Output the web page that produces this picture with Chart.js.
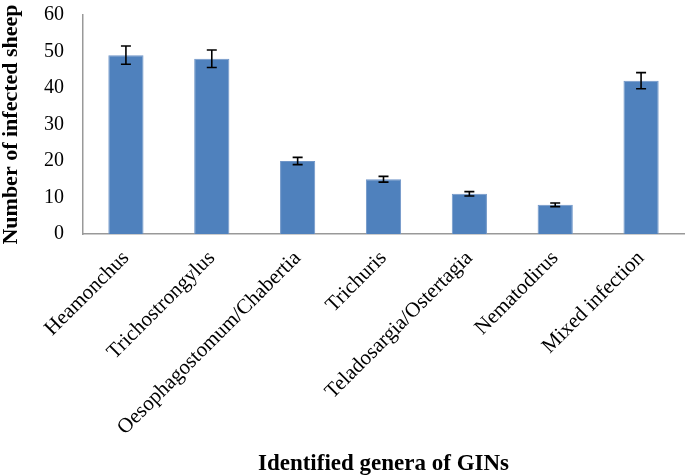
<!DOCTYPE html>
<html>
<head>
<meta charset="utf-8">
<script src="https://cdn.jsdelivr.net/npm/chart.js@4"></script>
<style>
html,body{margin:0;padding:0;background:#fff;}
#wrap{width:685px;height:475px;position:relative;}
</style>
</head>
<body>
<div id="wrap"><canvas id="c" width="685" height="475"></canvas></div>
<script>
const categories = ["Heamonchus","Trichostrongylus","Oesophagostomum/Chabertia","Trichuris","Teladosargia/Ostertagia","Nematodirus","Mixed infection"];
const infectedSheep = [49, 48, 20, 15, 11, 8, 42];
const errorMargins = [2.5, 2.4, 1.0, 0.8, 0.6, 0.5, 2.2];
const yTicks = [0,10,20,30,40,50,60];

const errorBarPlugin = {
  id: 'errorBars',
  afterDatasetsDraw(chart) {
    const ctx = chart.ctx;
    const meta = chart.getDatasetMeta(0);
    const y = chart.scales.y;
    ctx.save();
    ctx.strokeStyle = '#000';
    ctx.lineWidth = 1.6;
    meta.data.forEach((bar, i) => {
      const v = infectedSheep[i], e = errorMargins[i];
      const x = bar.x;
      const yt = y.getPixelForValue(v + e);
      const yb = y.getPixelForValue(v - e);
      const cap = 5;
      ctx.beginPath();
      ctx.moveTo(x, yt); ctx.lineTo(x, yb);
      ctx.moveTo(x - cap, yt); ctx.lineTo(x + cap, yt);
      ctx.moveTo(x - cap, yb); ctx.lineTo(x + cap, yb);
      ctx.stroke();
    });
    ctx.restore();
  }
};

const serif = '"Liberation Serif", "Times New Roman", serif';

new Chart(document.getElementById('c'), {
  type: 'bar',
  data: {
    labels: categories,
    datasets: [{
      data: infectedSheep,
      backgroundColor: '#4F81BD',
      borderColor: '#7096C8',
      borderWidth: 1,
      barPercentage: 0.41,
      categoryPercentage: 1.0
    }]
  },
  options: {
    responsive: false,
    animation: false,
    layout: { padding: { top: 0, right: 1, left: 0, bottom: 0 } },
    plugins: { legend: { display: false }, tooltip: { enabled: false } },
    scales: {
      x: {
        afterFit(scale) { scale.paddingLeft = 0; scale.paddingRight = 0; scale.height = 241; },
        grid: { display: false, drawTicks: false },
        border: { display: true, color: '#999999', width: 1.5 },
        ticks: {
          color: '#000',
          font: { family: serif, size: 21 },
          minRotation: 45, maxRotation: 45, autoSkip: false, padding: 12
        },
        title: {
          display: true,
          text: 'Identified genera of GINs',
          color: '#000',
          font: { family: serif, size: 23, weight: 'bold' },
          padding: { top: 29, bottom: -3 }
        }
      },
      y: {
        min: 0, max: 60,
        afterBuildTicks(scale) { scale.ticks = yTicks.map(v => ({ value: v })); },
        afterFit(scale) { scale.paddingTop = 15; scale.paddingBottom = 0; },
        grid: { display: false, drawTicks: false },
        border: { display: true, color: '#999999', width: 1.5 },
        ticks: {
          color: '#000',
          font: { family: serif, size: 20 },
          padding: 19
        },
        title: {
          display: true,
          text: 'Number of infected sheep',
          color: '#000',
          font: { family: serif, size: 22, weight: 'bold', lineHeight: 1.0 },
          padding: { top: 0, bottom: 3 }
        }
      }
    }
  },
  plugins: [errorBarPlugin]
});
</script>
</body>
</html>
